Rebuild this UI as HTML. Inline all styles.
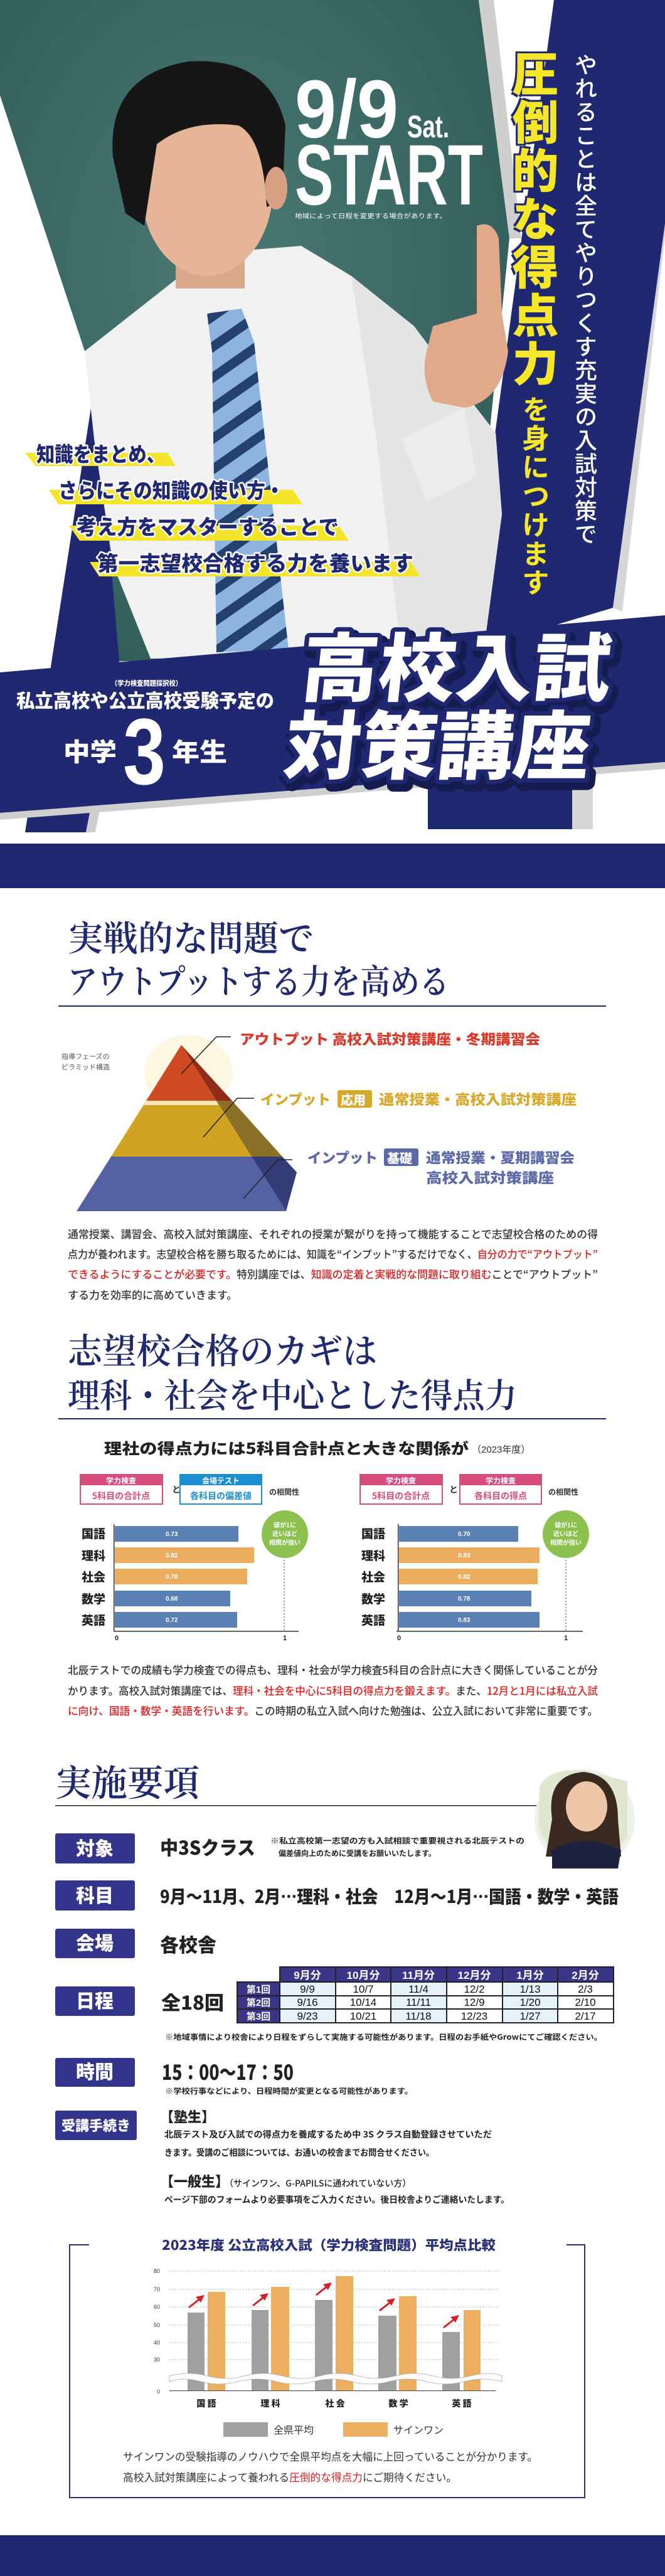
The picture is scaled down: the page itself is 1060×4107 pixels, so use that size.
<!DOCTYPE html>
<html><head><meta charset="utf-8">
<style>
*{margin:0;padding:0;box-sizing:border-box}
body{width:1060px;height:4107px;background:#fff;position:relative;overflow:hidden;font-family:"Liberation Sans","Noto Sans CJK JP",sans-serif}
.v{position:absolute;writing-mode:vertical-rl;white-space:nowrap;font-family:"Noto Sans CJK JP",sans-serif}
svg{position:absolute;left:0;top:0}
</style></head><body>
<svg width="1060" height="4107" viewBox="0 0 1060 4107" xmlns="http://www.w3.org/2000/svg" font-family="'Liberation Sans','Noto Sans CJK JP',sans-serif">
<defs>
<pattern id="tie" width="40" height="40" patternUnits="userSpaceOnUse" patternTransform="rotate(-35)">
<rect width="40" height="40" fill="#8db3df"/><rect width="40" height="15" fill="#24406f"/></pattern>
<radialGradient id="teal" cx="0.45" cy="0.4" r="0.7"><stop offset="0" stop-color="#4a7a74"/><stop offset="1" stop-color="#2f5a58"/></radialGradient>
</defs>
<!-- HERO -->
<polygon points="0,0 763,0 812,380 753,957 740,1040 150,1070 150,605 0,152" fill="url(#teal)"/>
<polygon points="763,0 787,0 831,380 812,380" fill="#cfcfcf"/>
<polygon points="883,0 1060,0 1060,357 977,969 740,1040 753,957" fill="#1f2870"/>
<polygon points="1060,357 1060,375 992,975 977,969" fill="#d6d6d6"/>
<polygon points="152,605 40,1327 137,1327 190,1054" fill="#1f2870"/>
<polygon points="190,1054 137,1327 152,1327 205,1054" fill="#cfcfcf"/>
<path d="M135,560 L300,430 L380,400 L480,392 L560,440 L660,520 L720,600 L790,690 L800,820 L770,1045 L240,1050 L180,900 L150,700 Z" fill="#f1f1f1"/>
<path d="M560,440 L660,520 L720,600 L790,690 L800,820 L770,1045 L640,1045 L600,700 Z" fill="#e4e4e4"/>
<rect x="280" y="380" width="110" height="80" fill="#d9a78a"/>
<ellipse cx="330" cy="300" rx="105" ry="140" fill="#e6b597"/>
<path d="M180,250 Q170,120 300,98 Q430,90 455,200 L450,320 L425,330 Q420,220 380,200 Q300,190 250,230 L230,360 L200,340 Z" fill="#161616"/>
<ellipse cx="440" cy="300" rx="18" ry="34" fill="#d9a183"/>
<path d="M330,500 L385,492 L405,545 L460,1035 L345,1040 L338,560 Z" fill="url(#tie)"/>
<path d="M760,360 Q785,350 795,380 L800,500 L810,560 Q800,640 740,650 L690,640 Q670,600 680,560 L690,520 L760,500 Z" fill="#e0a98a"/>
<path d="M640,700 L740,650 L760,760 L680,800 Z" fill="#ececec"/>
<polygon points="0,1072 1060,981 1060,1215 0,1296" fill="#1f2870"/>
<polygon points="0,1296 1060,1215 1060,1226 0,1307" fill="#cfcfcf"/>
<polygon points="682,1248 912,1230 912,1322 682,1322" fill="#1f2870"/>
<polygon points="912,1230 945,1228 945,1322 912,1322" fill="#d6d6d6"/>
<rect x="0" y="1345" width="1060" height="71" fill="#1f2870"/>
<text x="470" y="219" font-size="131" font-weight="bold" fill="#fff" textLength="165" lengthAdjust="spacingAndGlyphs">9/9</text>
<text x="649" y="219" font-size="50" font-weight="bold" fill="#fff" textLength="67" lengthAdjust="spacingAndGlyphs">Sat.</text>
<text x="470" y="326" font-size="137" font-weight="bold" fill="#fff" textLength="300" lengthAdjust="spacingAndGlyphs">START</text>
<text x="470" y="348" font-size="10" fill="#fff" textLength="242" lengthAdjust="spacingAndGlyphs">地域によって日程を変更する場合があります。</text>
<polygon points="40,722 267,722 280,743 57,743" fill="#f3e62a"/>
<polygon points="78,781 467,781 482,804 93,804" fill="#f3e62a"/>
<polygon points="110,838 540,838 556,862 127,862" fill="#f3e62a"/>
<polygon points="143,896 655,896 670,919 158,919" fill="#f3e62a"/>
<g font-size="33" font-weight="900" fill="#1f2870" stroke="#fff" stroke-width="5" paint-order="stroke" stroke-linejoin="round" font-family="'Noto Sans CJK JP',sans-serif">
<text x="58" y="736" textLength="205" lengthAdjust="spacingAndGlyphs">知識をまとめ、</text>
<text x="93" y="794" textLength="360" lengthAdjust="spacingAndGlyphs">さらにその知識の使い方・</text>
<text x="122" y="852" textLength="418" lengthAdjust="spacingAndGlyphs">考え方をマスターすることで</text>
<text x="155" y="910" textLength="504" lengthAdjust="spacingAndGlyphs">第一志望校合格する力を養います</text>
</g>
<g fill="#fff" font-weight="900" font-family="'Noto Sans CJK JP',sans-serif">
<text x="177" y="1093" font-size="11" textLength="113" lengthAdjust="spacingAndGlyphs">（学力検査問題採択校）</text>
<text x="26" y="1128" font-size="30" textLength="411" lengthAdjust="spacingAndGlyphs">私立高校や公立高校受験予定の</text>
<text x="101" y="1213" font-size="40" textLength="85" lengthAdjust="spacingAndGlyphs">中学</text>
<text x="274" y="1213" font-size="40" textLength="88" lengthAdjust="spacingAndGlyphs">年生</text>
</g>
<text x="196" y="1250" font-size="150" font-weight="bold" fill="#fff" textLength="68" lengthAdjust="spacingAndGlyphs">3</text>
<g font-family="'Noto Sans CJK JP',sans-serif" font-weight="900" font-size="118" transform="skewX(-6) translate(120,0)">
<text x="473" y="1108" fill="#141c50" stroke="#141c50" stroke-width="22" stroke-linejoin="round" textLength="493" lengthAdjust="spacingAndGlyphs" transform="translate(6,8)">高校入試</text>
<text x="459" y="1232" fill="#141c50" stroke="#141c50" stroke-width="22" stroke-linejoin="round" textLength="487" lengthAdjust="spacingAndGlyphs" transform="translate(6,8)">対策講座</text>
<text x="473" y="1108" fill="#fff" stroke="#1f2870" stroke-width="14" paint-order="stroke" stroke-linejoin="round" textLength="493" lengthAdjust="spacingAndGlyphs">高校入試</text>
<text x="459" y="1232" fill="#fff" stroke="#1f2870" stroke-width="14" paint-order="stroke" stroke-linejoin="round" textLength="487" lengthAdjust="spacingAndGlyphs">対策講座</text>
</g>

<!-- SECTION 2 -->
<g font-family="'Noto Serif CJK SC','Noto Serif CJK JP',serif" fill="#1f2a6e" font-weight="600">
<text x="108" y="1516" font-size="56" textLength="392" lengthAdjust="spacingAndGlyphs">実戦的な問題で</text>
<text x="108" y="1584" font-size="54" textLength="608" lengthAdjust="spacingAndGlyphs">アウトプットする力を高める</text>
<text x="108" y="2174" font-size="56" textLength="493" lengthAdjust="spacingAndGlyphs">志望校合格のカギは</text>
<text x="108" y="2244" font-size="54" textLength="716" lengthAdjust="spacingAndGlyphs">理科・社会を中心とした得点力</text>
</g>
<rect x="93" y="1603" width="873" height="2" fill="#1f2a6e"/>
<rect x="93" y="2261" width="873" height="2" fill="#1f2a6e"/>
<ellipse cx="300" cy="1710" rx="70" ry="60" fill="#fbf1cf" opacity="0.6"/>
<polygon points="289,1666 233,1755 345,1755" fill="#cd4a22"/>
<polygon points="289,1666 345,1755 370,1755" fill="#8d2d1a"/>
<polygon points="233,1755 345,1755 401,1844 177,1844" fill="#d1a323"/>
<polygon points="345,1755 370,1755 450,1844 401,1844" fill="#8a7028"/>
<polygon points="177,1844 401,1844 456,1931 122,1931" fill="#5462a3"/>
<polygon points="401,1844 450,1844 473,1869 456,1931" fill="#353d78"/>
<polygon points="233,1755 345,1755 348,1762 229,1762" fill="#f6e7b8"/>
<g stroke="#222" stroke-width="1.5" fill="none">
<polyline points="289,1712 345,1653 368,1653"/>
<polyline points="324,1813 378,1751 405,1751"/>
<polyline points="388,1911 443,1849 466,1849"/>
</g>
<text x="98" y="1688" font-size="11" fill="#555">指導フェーズの</text>
<text x="98" y="1705" font-size="11" fill="#555">ピラミッド構造</text>
<g font-family="'Noto Sans CJK JP',sans-serif" font-weight="900" font-size="22">
<text x="382" y="1665" fill="#d63a2a" textLength="479" lengthAdjust="spacingAndGlyphs">アウトプット 高校入試対策講座・冬期講習会</text>
<text x="415" y="1761" fill="#d6a92c" textLength="112" lengthAdjust="spacingAndGlyphs">インプット</text>
<rect x="538" y="1738" width="55" height="28" rx="3" fill="#d6a92c"/>
<text x="543" y="1761" fill="#fff" font-size="20">応用</text>
<text x="604" y="1761" fill="#d6a92c" textLength="315" lengthAdjust="spacingAndGlyphs">通常授業・高校入試対策講座</text>
<text x="490" y="1854" fill="#5b6aa6" textLength="112" lengthAdjust="spacingAndGlyphs">インプット</text>
<rect x="612" y="1831" width="55" height="28" rx="3" fill="#5b6aa6"/>
<text x="617" y="1854" fill="#fff" font-size="20">基礎</text>
<text x="679" y="1854" fill="#5b6aa6" textLength="237" lengthAdjust="spacingAndGlyphs">通常授業・夏期講習会</text>
<text x="679" y="1886" fill="#5b6aa6" textLength="204" lengthAdjust="spacingAndGlyphs">高校入試対策講座</text>
</g>
<g font-size="17" fill="#333" font-family="'Noto Sans CJK JP',sans-serif" font-weight="500">
<text x="108" y="1974" textLength="845" lengthAdjust="spacingAndGlyphs">通常授業、講習会、高校入試対策講座、それぞれの授業が繋がりを持って機能することで志望校合格のための得</text>
<text x="108" y="2006" textLength="845" lengthAdjust="spacingAndGlyphs">点力が養われます。志望校合格を勝ち取るためには、知識を“インプット”するだけでなく、<tspan fill="#e02020">自分の力で“アウトプット”</tspan></text>
<text x="108" y="2038" textLength="845" lengthAdjust="spacingAndGlyphs"><tspan fill="#e02020">できるようにすることが必要です。</tspan>特別講座では、<tspan fill="#e02020">知識の定着と実戦的な問題に取り組む</tspan>ことで“アウトプット”</text>
<text x="108" y="2071">する力を効率的に高めていきます。</text>
</g>
<text x="166" y="2318" font-size="24" font-weight="900" fill="#222" font-family="'Noto Sans CJK JP',sans-serif" textLength="581" lengthAdjust="spacingAndGlyphs">理社の得点力には5科目合計点と大きな関係が</text>
<text x="752" y="2316" font-size="15" fill="#333">（2023年度）</text>
<g font-family="'Noto Sans CJK JP',sans-serif" font-weight="700">
<rect x="128" y="2351" width="131" height="47" fill="#fff" stroke="#d94d7e" stroke-width="2"/><rect x="128" y="2351" width="131" height="17" fill="#d94d7e"/>
<text x="193" y="2365" font-size="12" fill="#fff" text-anchor="middle">学力検査</text><text x="193" y="2390" font-size="14" fill="#d94d7e" text-anchor="middle">5科目の合計点</text>
<text x="274" y="2380" font-size="14" fill="#333">と</text>
<rect x="287" y="2351" width="130" height="47" fill="#fff" stroke="#1c8fd0" stroke-width="2"/><rect x="287" y="2351" width="130" height="17" fill="#1c8fd0"/>
<text x="352" y="2365" font-size="12" fill="#fff" text-anchor="middle">会場テスト</text><text x="352" y="2390" font-size="14" fill="#1c8fd0" text-anchor="middle">各科目の偏差値</text>
<text x="429" y="2383" font-size="12" fill="#333">の相関性</text>
<rect x="574" y="2351" width="131" height="47" fill="#fff" stroke="#d94d7e" stroke-width="2"/><rect x="574" y="2351" width="131" height="17" fill="#d94d7e"/>
<text x="639" y="2365" font-size="12" fill="#fff" text-anchor="middle">学力検査</text><text x="639" y="2390" font-size="14" fill="#d94d7e" text-anchor="middle">5科目の合計点</text>
<text x="716" y="2380" font-size="14" fill="#333">と</text>
<rect x="733" y="2351" width="130" height="47" fill="#fff" stroke="#d94d7e" stroke-width="2"/><rect x="733" y="2351" width="130" height="17" fill="#d94d7e"/>
<text x="798" y="2365" font-size="12" fill="#fff" text-anchor="middle">学力検査</text><text x="798" y="2390" font-size="14" fill="#d94d7e" text-anchor="middle">各科目の得点</text>
<text x="874" y="2383" font-size="12" fill="#333">の相関性</text>
<g font-size="19" fill="#222" font-weight="900">
<text x="130" y="2452">国語</text><text x="130" y="2487">理科</text><text x="130" y="2521">社会</text><text x="130" y="2556">数学</text><text x="130" y="2590">英語</text>
<text x="576" y="2452">国語</text><text x="576" y="2487">理科</text><text x="576" y="2521">社会</text><text x="576" y="2556">数学</text><text x="576" y="2590">英語</text>
</g>
</g>
<g>
<rect x="183" y="2433" width="197" height="25" fill="#5b80b4"/>
<rect x="183" y="2467" width="222" height="25" fill="#ecad5e"/>
<rect x="183" y="2501" width="211" height="25" fill="#ecad5e"/>
<rect x="183" y="2536" width="184" height="25" fill="#5b80b4"/>
<rect x="183" y="2570" width="195" height="25" fill="#5b80b4"/>
<rect x="636" y="2433" width="190" height="25" fill="#5b80b4"/>
<rect x="636" y="2467" width="224" height="25" fill="#ecad5e"/>
<rect x="636" y="2501" width="221" height="25" fill="#ecad5e"/>
<rect x="636" y="2536" width="211" height="25" fill="#5b80b4"/>
<rect x="636" y="2570" width="224" height="25" fill="#5b80b4"/>
<g font-size="10" fill="#fff" font-weight="bold">
<text x="264" y="2449">0.73</text><text x="264" y="2483">0.82</text><text x="264" y="2517">0.78</text><text x="264" y="2552">0.68</text><text x="264" y="2586">0.72</text>
<text x="730" y="2449">0.70</text><text x="730" y="2483">0.83</text><text x="730" y="2517">0.82</text><text x="730" y="2552">0.78</text><text x="730" y="2586">0.83</text>
</g>
<rect x="181" y="2600" width="295" height="1.5" fill="#333"/><rect x="181" y="2430" width="1.5" height="171" fill="#333"/>
<rect x="632" y="2600" width="297" height="1.5" fill="#333"/><rect x="634" y="2430" width="1.5" height="171" fill="#333"/>
<line x1="453" y1="2487" x2="453" y2="2600" stroke="#333" stroke-dasharray="2,3"/>
<line x1="902" y1="2487" x2="902" y2="2600" stroke="#333" stroke-dasharray="2,3"/>
<g font-size="11" font-weight="bold" fill="#222"><text x="183" y="2615">0</text><text x="451" y="2615">1</text><text x="633" y="2615">0</text><text x="899" y="2615">1</text></g>
<ellipse cx="454" cy="2446" rx="37" ry="38" fill="#8cc14f"/>
<ellipse cx="902" cy="2446" rx="37" ry="38" fill="#8cc14f"/>
<g font-size="10" fill="#fff" font-weight="bold" text-anchor="middle" font-family="'Noto Sans CJK JP',sans-serif">
<text x="454" y="2435">値が1に</text><text x="454" y="2449">近いほど</text><text x="454" y="2463">相関が強い</text>
<text x="902" y="2435">値が1に</text><text x="902" y="2449">近いほど</text><text x="902" y="2463">相関が強い</text>
</g>
</g>
<g font-size="17" fill="#333" font-family="'Noto Sans CJK JP',sans-serif" font-weight="500">
<text x="108" y="2669" textLength="845" lengthAdjust="spacingAndGlyphs">北辰テストでの成績も学力検査での得点も、理科・社会が学力検査5科目の合計点に大きく関係していることが分</text>
<text x="108" y="2702" textLength="845" lengthAdjust="spacingAndGlyphs">かります。高校入試対策講座では、<tspan fill="#e02020">理科・社会を中心に5科目の得点力を鍛えます。</tspan>また、<tspan fill="#e02020">12月と1月には私立入試</tspan></text>
<text x="108" y="2734" textLength="845" lengthAdjust="spacingAndGlyphs"><tspan fill="#e02020">に向け、国語・数学・英語を行います。</tspan>この時期の私立入試へ向けた勉強は、公立入試において非常に重要です。</text>
</g>

<!-- SECTION 3 -->
<text x="88" y="2863" font-size="58" fill="#1f2a6e" font-weight="600" font-family="'Noto Serif CJK SC','Noto Serif CJK JP',serif" textLength="230" lengthAdjust="spacingAndGlyphs">実施要項</text>
<rect x="88" y="2878" width="790" height="1.5" fill="#222"/>
<ellipse cx="932" cy="2900" rx="80" ry="79" fill="#eef0ea"/>
<path d="M860,2850 Q870,2820 930,2822 L1000,2840 L1000,2930 Q960,2975 900,2960 Q860,2940 858,2900 Z" fill="#dfe7cf"/>
<path d="M880,2900 Q870,2830 930,2825 Q985,2830 985,2900 L990,2960 L870,2960 Z" fill="#3b2a20"/>
<ellipse cx="935" cy="2880" rx="33" ry="40" fill="#f0c6a8"/>
<path d="M880,2950 Q932,2920 990,2950 L985,2979 L880,2979 Z" fill="#1e2240"/>
<g fill="#33348c">
<rect x="88" y="2923" width="127" height="48" rx="3"/><rect x="88" y="2998" width="127" height="48" rx="3"/>
<rect x="88" y="3075" width="127" height="47" rx="3"/><rect x="88" y="3167" width="127" height="47" rx="3"/>
<rect x="88" y="3281" width="127" height="46" rx="3"/><rect x="88" y="3365" width="130" height="47" rx="3"/>
</g>
<g fill="#fff" font-size="30" font-weight="900" font-family="'Noto Sans CJK JP',sans-serif" text-anchor="middle">
<text x="151" y="2958">対象</text><text x="151" y="3033">科目</text><text x="151" y="3109">会場</text><text x="151" y="3201">日程</text><text x="151" y="3314">時間</text>
<text x="153" y="3397" font-size="22">受講手続き</text>
</g>
<g fill="#222" font-family="'Noto Sans CJK JP',sans-serif" font-weight="900">
<text x="255" y="2957" font-size="30" textLength="152" lengthAdjust="spacingAndGlyphs">中3Sクラス</text>
<text x="431" y="2939" font-size="12" font-weight="700" textLength="405" lengthAdjust="spacingAndGlyphs">※私立高校第一志望の方も入試相談で重要視される北辰テストの</text>
<text x="444" y="2959" font-size="12" font-weight="700">偏差値向上のために受講をお願いいたします。</text>
<text x="255" y="3034" font-size="28" textLength="731" lengthAdjust="spacingAndGlyphs">9月〜11月、2月…理科・社会　12月〜1月…国語・数学・英語</text>
<text x="255" y="3112" font-size="30">各校舎</text>
<text x="257" y="3204" font-size="30" textLength="100" lengthAdjust="spacingAndGlyphs">全18回</text>
<text x="263" y="3252" font-size="12" font-weight="700" textLength="697" lengthAdjust="spacingAndGlyphs">※地域事情により校舎により日程をずらして実施する可能性があります。日程のお手紙やGrowにてご確認ください。</text>
<text x="258" y="3316" font-size="33" textLength="210" lengthAdjust="spacingAndGlyphs">15：00〜17：50</text>
<text x="263" y="3338" font-size="12" font-weight="700" textLength="395" lengthAdjust="spacingAndGlyphs">※学校行事などにより、日程時間が変更となる可能性があります。</text>
<text x="255" y="3383" font-size="22">【塾生】</text>
<text x="262" y="3408" font-size="14" font-weight="700" textLength="522" lengthAdjust="spacingAndGlyphs">北辰テスト及び入試での得点力を養成するため中 3S クラス自動登録させていただ</text>
<text x="262" y="3437" font-size="14" font-weight="700" textLength="430" lengthAdjust="spacingAndGlyphs">きます。受講のご相談については、お通いの校舎までお問合せください。</text>
<text x="255" y="3486" font-size="22">【一般生】<tspan font-size="14" font-weight="500">（サインワン、G-PAPILSに通われていない方）</tspan></text>
<text x="262" y="3512" font-size="14" font-weight="700" textLength="550" lengthAdjust="spacingAndGlyphs">ページ下部のフォームより必要事項をご入力ください。後日校舎よりご連絡いたします。</text>
</g>
<!-- table -->
<g>
<rect x="446" y="3136" width="532" height="24" fill="#3a3586"/>
<rect x="378" y="3160" width="68" height="65" fill="#3a3586"/>
<rect x="446" y="3160" width="89" height="65" fill="#e5f2fa"/><rect x="623" y="3160" width="89" height="65" fill="#e5f2fa"/><rect x="801" y="3160" width="88" height="65" fill="#e5f2fa"/>
<g stroke="#222" stroke-width="2" fill="none">
<rect x="446" y="3136" width="532" height="89"/><rect x="378" y="3160" width="68" height="65"/>
<line x1="378" y1="3182" x2="978" y2="3182"/><line x1="378" y1="3203" x2="978" y2="3203"/><line x1="446" y1="3160" x2="978" y2="3160"/>
<line x1="535" y1="3136" x2="535" y2="3225"/><line x1="623" y1="3136" x2="623" y2="3225"/><line x1="712" y1="3136" x2="712" y2="3225"/><line x1="801" y1="3136" x2="801" y2="3225"/><line x1="889" y1="3136" x2="889" y2="3225"/>
</g>
<g font-size="17" text-anchor="middle" font-family="'Liberation Sans','Noto Sans CJK JP',sans-serif">
<g fill="#fff" font-weight="bold"><text x="490" y="3155">9月分</text><text x="579" y="3155">10月分</text><text x="667" y="3155">11月分</text><text x="756" y="3155">12月分</text><text x="845" y="3155">1月分</text><text x="933" y="3155">2月分</text>
<text x="412" y="3177" font-size="15">第1回</text><text x="412" y="3198" font-size="15">第2回</text><text x="412" y="3220" font-size="15">第3回</text></g>
<g fill="#111">
<text x="490" y="3177">9/9</text><text x="579" y="3177">10/7</text><text x="667" y="3177">11/4</text><text x="756" y="3177">12/2</text><text x="845" y="3177">1/13</text><text x="933" y="3177">2/3</text>
<text x="490" y="3198">9/16</text><text x="579" y="3198">10/14</text><text x="667" y="3198">11/11</text><text x="756" y="3198">12/9</text><text x="845" y="3198">1/20</text><text x="933" y="3198">2/10</text>
<text x="490" y="3220">9/23</text><text x="579" y="3220">10/21</text><text x="667" y="3220">11/18</text><text x="756" y="3220">12/23</text><text x="845" y="3220">1/27</text><text x="933" y="3220">2/17</text>
</g></g>
</g>
<path d="M142,3579 L111,3579 L111,3982 L932,3982 L932,3579 L903,3579" fill="none" stroke="#2a3176" stroke-width="2"/>
<text x="258" y="3587" font-size="21" font-weight="900" fill="#2a3176" font-family="'Noto Sans CJK JP',sans-serif" textLength="532" lengthAdjust="spacingAndGlyphs">2023年度 公立高校入試（学力検査問題）平均点比較</text>
<g stroke="#999" stroke-dasharray="1.5,3" stroke-width="1">
<line x1="270" y1="3621" x2="794" y2="3621"/><line x1="270" y1="3650" x2="794" y2="3650"/><line x1="270" y1="3678" x2="794" y2="3678"/><line x1="270" y1="3707" x2="794" y2="3707"/><line x1="270" y1="3735" x2="794" y2="3735"/><line x1="270" y1="3762" x2="794" y2="3762"/>
</g>
<g font-size="9" fill="#333"><text x="245" y="3624">80</text><text x="245" y="3653">70</text><text x="245" y="3681">60</text><text x="245" y="3710">50</text><text x="245" y="3738">40</text><text x="245" y="3765">30</text><text x="250" y="3816">0</text></g>
<g fill="#a0a0a0"><rect x="299" y="3687" width="27" height="125"/><rect x="401" y="3683" width="27" height="129"/><rect x="502" y="3667" width="28" height="145"/><rect x="603" y="3692" width="29" height="120"/><rect x="705" y="3718" width="28" height="94"/></g>
<g fill="#ecae5f"><rect x="331" y="3654" width="28" height="158"/><rect x="432" y="3646" width="29" height="166"/><rect x="535" y="3629" width="28" height="183"/><rect x="636" y="3661" width="28" height="151"/><rect x="739" y="3683" width="27" height="129"/></g>
<path d="M270,3788 Q300,3780 330,3788 T390,3788 T450,3788 T510,3788 T570,3788 T630,3788 T690,3788 T750,3788 T800,3788 L800,3797 Q770,3789 740,3797 T680,3797 T620,3797 T560,3797 T500,3797 T440,3797 T380,3797 T320,3797 T270,3797 Z" fill="#fff" stroke="#aaa" stroke-width="0.8"/>
<rect x="270" y="3811" width="520" height="1.2" fill="#555"/>
<g stroke="#d8202a" stroke-width="3" fill="#d8202a">
<line x1="301" y1="3679" x2="320" y2="3664"/><polygon points="326,3659 312,3662 320,3671" stroke="none"/>
<line x1="403" y1="3676" x2="422" y2="3661"/><polygon points="428,3656 414,3659 422,3668" stroke="none"/>
<line x1="504" y1="3659" x2="523" y2="3644"/><polygon points="529,3639 515,3642 523,3651" stroke="none"/>
<line x1="605" y1="3684" x2="624" y2="3669"/><polygon points="630,3664 616,3667 624,3676" stroke="none"/>
<line x1="707" y1="3711" x2="726" y2="3696"/><polygon points="732,3691 718,3694 726,3703" stroke="none"/>
</g>
<g font-size="14" font-weight="900" fill="#222" text-anchor="middle" font-family="'Noto Sans CJK JP',sans-serif">
<text x="329" y="3837">国 語</text><text x="431" y="3837">理 科</text><text x="534" y="3837">社 会</text><text x="635" y="3837">数 学</text><text x="736" y="3837">英 語</text>
</g>
<rect x="356" y="3862" width="71" height="23" fill="#a0a0a0"/><text x="436" y="3880" font-size="16" fill="#333">全県平均</text>
<rect x="547" y="3862" width="71" height="23" fill="#ecae5f"/><text x="627" y="3880" font-size="16" fill="#333">サインワン</text>
<g font-size="17" fill="#333" font-family="'Noto Sans CJK JP',sans-serif">
<text x="196" y="3923" textLength="661" lengthAdjust="spacingAndGlyphs">サインワンの受験指導のノウハウで全県平均点を大幅に上回っていることが分かります。</text>
<text x="196" y="3956" textLength="532" lengthAdjust="spacingAndGlyphs">高校入試対策講座によって養われる<tspan fill="#e02020">圧倒的な得点力</tspan>にご期待ください。</text>
</g>
<rect x="0" y="4042" width="1060" height="65" fill="#1f2870"/>
</svg>
<div class="v" style="left:914px;top:85px;font-size:36px;line-height:40px;letter-spacing:1.4px;color:#fff;font-weight:500">やれることは全てやりつくす充実の入試対策で</div>
<div class="v" style="left:815px;top:80px;font-size:74px;line-height:76px;letter-spacing:3px;color:#f5e629;font-weight:900;text-shadow:3px 3px 0 #1f2870,-3px -3px 0 #1f2870,3px -3px 0 #1f2870,-3px 3px 0 #1f2870">圧倒的な得点力</div>
<div class="v" style="left:831px;top:630px;font-size:44px;line-height:46px;letter-spacing:2px;color:#f5e629;font-weight:700">を身につけます</div>
</body></html>
